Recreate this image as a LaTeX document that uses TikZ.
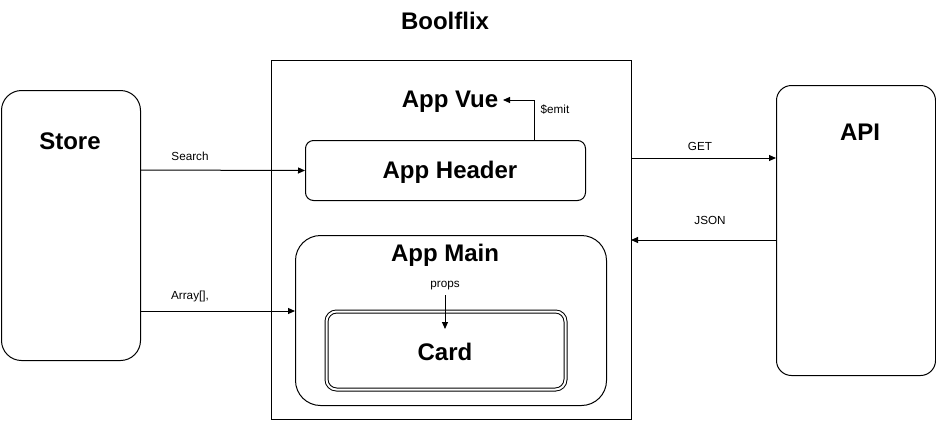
\documentclass[tikz,border=0pt]{standalone}
\usepackage{fontspec}
\setmainfont{Liberation Sans}
\usetikzlibrary{arrows.meta}
\begin{document}
\begin{tikzpicture}[x=1pt,y=-1pt,
  big/.style={font=\fontsize{24}{28}\selectfont\bfseries},
  small/.style={font=\fontsize{11.7}{13}\selectfont},
  box/.style={draw,line width=1pt},
  conn/.style={draw,line width=1pt,-{Triangle[length=7pt,width=6pt]}}]
\useasboundingbox (0,0) rectangle (936,421);
\node[big] (title) at (445,21) {Boolflix};
% Store
\node[box,rounded corners=20pt,minimum width=139pt,minimum height=270pt,anchor=north west] (store) at (1,90) {};
\node[big] (storet) at (70,141) {Store};
% App container
\node[box,minimum width=360pt,minimum height=359pt,anchor=north west] (app) at (271,60) {};
\node[big] (appvue) at (450,102) {App Vue};
% App Header
\node[box,rounded corners=8pt,minimum width=280pt,minimum height=60pt,anchor=north west] (header) at (305,140) {};
\node[big] (headert) at (450,172) {App Header};
% App Main
\node[box,rounded corners=25pt,minimum width=311pt,minimum height=170pt,anchor=north west] (main) at (295,235) {};
\node[big] (maint) at (445,255) {App Main};
% Card
\node[box,double,double distance=2pt,rounded corners=10pt,minimum width=239pt,minimum height=78pt,anchor=north west] (card) at (326,311) {};
\node[big] (cardt) at (445,352) {Card};
% API
\node[box,rounded corners=15pt,minimum width=159pt,minimum height=290pt,anchor=north west] (api) at (776,85) {};
\node[big] (apit) at (860,132) {API};
% connectors
\coordinate (emitS) at (534,140);
\coordinate (emitC) at (534,100);
\draw[conn] (emitS) -- (emitC) -- (503,100);
\node[small] (emitl) at (555,110) {\$emit};
\coordinate (propsS) at (445,295);
\draw[conn] (propsS) -- (445,329);
\node[small] (propsl) at (445,286) {props};
\coordinate (searchS) at (140,170);
\draw[conn] (searchS) -- (header.west);
\node[small] (searchl) at (190,156) {Search};
\coordinate (arrS) at (140,311);
\coordinate (arrE) at (295,311);
\draw[conn] (arrS) -- (arrE);
\node[small] (arrl) at (190,296) {Array[],};
\coordinate (getS) at (631,158);
\coordinate (getE) at (776,158);
\draw[conn] (getS) -- (getE);
\node[small] (getl) at (700,146) {GET};
\coordinate (jsonS) at (776,240);
\coordinate (jsonE) at (631,240);
\draw[conn] (jsonS) -- (jsonE);
\node[small] (jsonl) at (710,220) {JSON};
\end{tikzpicture}
\end{document}
